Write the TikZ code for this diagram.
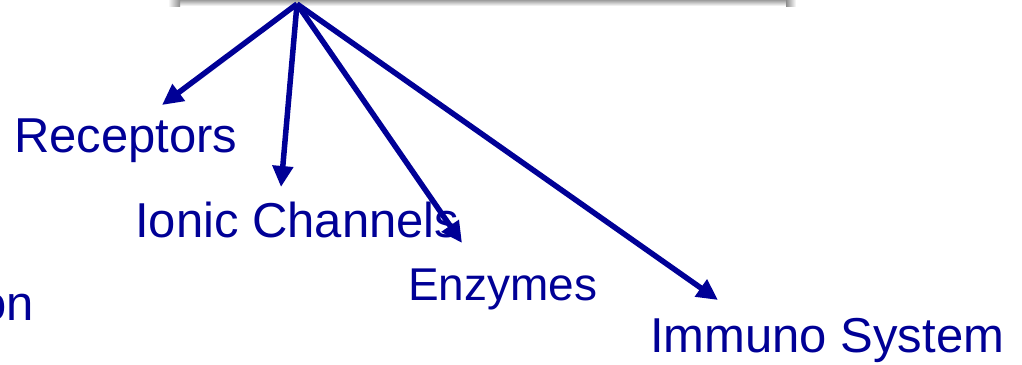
\documentclass[tikz,border=0pt]{standalone}
\usepackage{fontspec}
\setmainfont{Liberation Sans}
\usetikzlibrary{arrows.meta}
\definecolor{navyb}{RGB}{0,0,150}
\begin{document}
\begin{tikzpicture}[x=1pt,y=-1pt,
  lbl/.style={anchor=base west,inner sep=0pt,text=navyb,font=\fontsize{49}{55}\selectfont},
  arr/.style={draw=navyb,line width=5.5pt,-{Triangle[length=21pt,width=20pt]}}]
\useasboundingbox (0,0) rectangle (1022,364);
\clip (0,0) rectangle (1022,364);
% shadow of the box above
\shade[top color=black!45,bottom color=white] (178,-1) rectangle (788,6);
\shade[left color=white,right color=black!45] (168,-1) rectangle (180,6);
\shade[left color=black!45,right color=white] (786,-1) rectangle (796,6);
\coordinate (src) at (297,4);
\node[lbl] (rec) at (14,152) {Receptors};
\node[lbl] (ion) at (135,237) {Ionic Channels};
\node[lbl] (enz) at (408,300) {\resizebox{189pt}{!}{Enzymes}};
\node[lbl] (imm) at (650,352) {Immuno System};
\node[lbl,anchor=base east] (on) at (34,320) {on};
\coordinate (trec) at (162,105);
\coordinate (tion) at (281,187);
\coordinate (tenz) at (462,243);
\coordinate (timm) at (718,300);
\draw[arr] (src) -- (trec);
\draw[arr] (src) -- (tion);
\draw[arr] (src) -- (tenz);
\draw[arr] (src) -- (timm);
\end{tikzpicture}
\end{document}
